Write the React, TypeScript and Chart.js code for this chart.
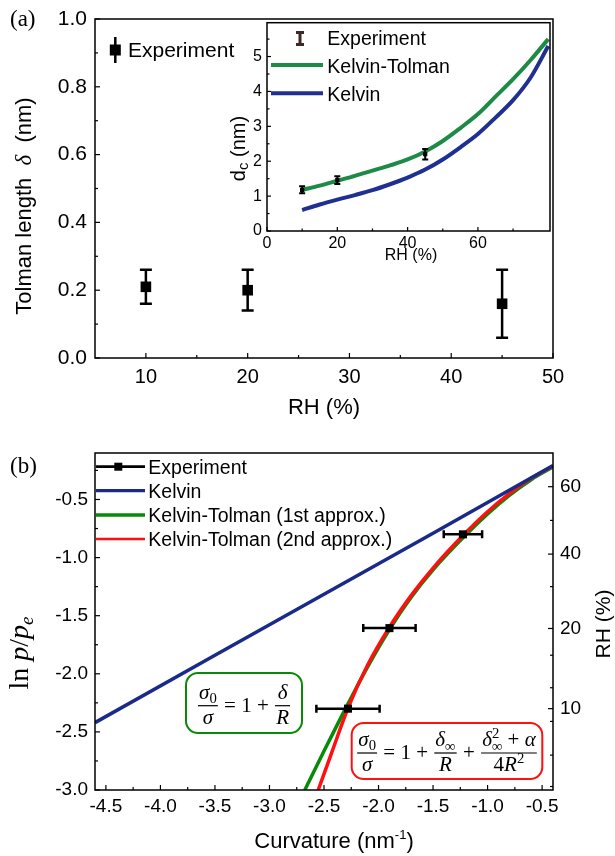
import React, { useEffect, useRef } from "react";
import { Chart, registerables } from "chart.js";
Chart.register(...registerables);

const SANS = '"Liberation Sans", Arial, Helvetica, sans-serif';
const SERIF = '"Liberation Serif", "Times New Roman", Times, serif';
Chart.defaults.font.family = SANS;
Chart.defaults.color = "#000";

const BLUE_IN = "#1f2f92";
const GREEN_IN = "#1d8a45";
const BLUE_B = "#1a2a8a";
const GREEN_B = "#078a07";
const RED_B = "#ff1010";

// ---------- Panel (a): Tolman length vs RH ----------
const aLabel = "Experiment";
const aRH = [10, 20, 45];
const aTolman = [0.21, 0.2, 0.16];
const aTolmanErr = [0.05, 0.06, 0.1];
const aXTicks = [10, 20, 30, 40, 50];
const aXMinor = [15, 25, 35, 45];
const aYTicks = [0, 0.2, 0.4, 0.6, 0.8, 1.0];
const aYMinor = [0.1, 0.3, 0.5, 0.7, 0.9];

// ---------- Inset: d_c vs RH ----------
const inLabels = ["Experiment", "Kelvin-Tolman", "Kelvin"];
const inExpRH = [10, 20, 45];
const inExpD = [1.18, 1.46, 2.2];
const inExpErr = [0.1, 0.11, 0.15];
const inCurveRH = [10, 15, 20, 25, 30, 35, 40, 45, 50, 55, 60, 65, 70, 75, 80];
const inKelvinTolman = [1.18, 1.3, 1.44, 1.58, 1.73, 1.88, 2.05, 2.28, 2.58, 2.95, 3.35, 3.85, 4.35, 4.9, 5.5];
const inKelvin = [0.6, 0.76, 0.9, 1.03, 1.17, 1.34, 1.53, 1.76, 2.05, 2.4, 2.78, 3.25, 3.75, 4.4, 5.3];
const inXTicks = [0, 20, 40, 60];
const inXMinor = [10, 30, 50, 70];
const inYTicks = [0, 1, 2, 3, 4, 5];
const inYMinor = [0.5, 1.5, 2.5, 3.5, 4.5, 5.5];

// ---------- Panel (b): ln p/pe vs curvature ----------
const bLabels = ["Experiment", "Kelvin", "Kelvin-Tolman (1st approx.)", "Kelvin-Tolman (2nd approx.)"];
const bExpCurv = [-2.28, -1.9, -1.226];
const bExpLn = [-2.3, -1.607, -0.8];
const bExpCurvErr = [0.29, 0.24, 0.176];
const bKelvinCurv = [-4.6, -3.5, -2.5, -1.5, -0.4];
const bKelvinLn = [-2.42, -1.84, -1.315, -0.79, -0.207];
const bKT1Curv = [-2.676, -2.5, -2.292, -2.1, -1.904, -1.7, -1.5, -1.226, -1.0, -0.8, -0.6, -0.4];
const bKT1Ln = [-3.0, -2.665, -2.28, -1.94, -1.625, -1.34, -1.105, -0.83, -0.625, -0.465, -0.33, -0.22];
const bKT2Curv = [-2.553, -2.43, -2.278, -2.1, -1.904, -1.7, -1.5, -1.226, -1.0, -0.8, -0.6, -0.4];
const bKT2Ln = [-3.0, -2.68, -2.29, -1.925, -1.605, -1.325, -1.09, -0.81, -0.605, -0.45, -0.318, -0.212];
const bXTicks = [-4.5, -4, -3.5, -3, -2.5, -2, -1.5, -1, -0.5];
const bXMinor = [-4.25, -3.75, -3.25, -2.75, -2.25, -1.75, -1.25, -0.75];
const bYTicks = [-3, -2.5, -2, -1.5, -1, -0.5];
const bYMinor = [-2.75, -2.25, -1.75, -1.25, -0.75, -0.25];
const rhLabels = ["60", "40", "20", "10"];
const rhLnPos = [-0.39, -0.97, -1.61, -2.3];
const rhMinorLnPos = [-0.68, -1.25, -1.84, -2.12, -2.41, -2.7, -2.97];

// ---------- helpers ----------
type Seg = { t: string; font: string; dy?: number; noAdvance?: boolean };
const fSans = (s: number) => `${s}px ${SANS}`;
const fSerif = (s: number) => `${s}px ${SERIF}`;
const fSerifI = (s: number) => `italic ${s}px ${SERIF}`;

function segsWidth(ctx: CanvasRenderingContext2D, segs: Seg[]) {
  let w = 0;
  for (const s of segs) {
    ctx.font = s.font;
    if (!s.noAdvance) w += ctx.measureText(s.t).width;
  }
  return w;
}
function drawSegs(ctx: CanvasRenderingContext2D, segs: Seg[], x: number, y: number, align: string) {
  const w = segsWidth(ctx, segs);
  let cx = align === "center" ? x - w / 2 : align === "right" ? x - w : x;
  ctx.textAlign = "left";
  ctx.textBaseline = "alphabetic";
  for (const s of segs) {
    ctx.font = s.font;
    ctx.fillText(s.t, cx, y + (s.dy || 0));
    if (!s.noAdvance) cx += ctx.measureText(s.t).width;
  }
  return w;
}
function drawRot(ctx: CanvasRenderingContext2D, segs: Seg[], bx: number, cy: number) {
  ctx.save();
  ctx.translate(bx, cy);
  ctx.rotate(-Math.PI / 2);
  drawSegs(ctx, segs, 0, 0, "center");
  ctx.restore();
}

type MathItem = { kind: "txt"; segs: Seg[] } | { kind: "frac"; num: Seg[]; den: Seg[] };
function drawFormula(ctx: CanvasRenderingContext2D, items: MathItem[], cx: number, axisY: number, size: number) {
  const widths = items.map((it) =>
    it.kind === "txt" ? segsWidth(ctx, it.segs) : Math.max(segsWidth(ctx, it.num), segsWidth(ctx, it.den)) + size * 0.2
  );
  const total = widths.reduce((a, b) => a + b, 0);
  let x = cx - total / 2;
  ctx.fillStyle = "#000";
  ctx.strokeStyle = "#000";
  items.forEach((it, i) => {
    const w = widths[i];
    if (it.kind === "txt") {
      drawSegs(ctx, it.segs, x, axisY + size * 0.3, "left");
    } else {
      drawSegs(ctx, it.num, x + w / 2, axisY - size * 0.32, "center");
      drawSegs(ctx, it.den, x + w / 2, axisY + size * 0.85, "center");
      ctx.lineWidth = 1.2;
      ctx.beginPath();
      ctx.moveTo(x + 1, axisY);
      ctx.lineTo(x + w - 1, axisY);
      ctx.stroke();
    }
    x += w;
  });
}

function roundBox(ctx: CanvasRenderingContext2D, x: number, y: number, w: number, h: number, r: number, color: string) {
  ctx.save();
  ctx.beginPath();
  ctx.moveTo(x + r, y);
  ctx.arcTo(x + w, y, x + w, y + h, r);
  ctx.arcTo(x + w, y + h, x, y + h, r);
  ctx.arcTo(x, y + h, x, y, r);
  ctx.arcTo(x, y, x + w, y, r);
  ctx.closePath();
  ctx.fillStyle = "#fff";
  ctx.fill();
  ctx.lineWidth = 2;
  ctx.strokeStyle = color;
  ctx.stroke();
  ctx.restore();
}

function drawFrameTicks(chart: any, axes: { id: string; side: string; minor: number[] }[], maj: number, min: number) {
  const ctx = chart.ctx as CanvasRenderingContext2D;
  const a = chart.chartArea;
  ctx.save();
  ctx.strokeStyle = "#000";
  ctx.lineWidth = 1.5;
  ctx.strokeRect(a.left, a.top, a.right - a.left, a.bottom - a.top);
  ctx.lineWidth = 1.2;
  for (const ax of axes) {
    const s = chart.scales[ax.id];
    const tick = (v: number, len: number) => {
      const p = s.getPixelForValue(v);
      ctx.beginPath();
      if (ax.side === "bottom") {
        ctx.moveTo(p, a.bottom);
        ctx.lineTo(p, a.bottom - len);
      } else if (ax.side === "left") {
        ctx.moveTo(a.left, p);
        ctx.lineTo(a.left + len, p);
      } else {
        ctx.moveTo(a.right, p);
        ctx.lineTo(a.right - len, p);
      }
      ctx.stroke();
    };
    s.ticks.forEach((t: any) => tick(t.value, maj));
    ax.minor.forEach((v) => tick(v, min));
  }
  ctx.restore();
}

function errY(chart: any, xs: number[], ys: number[], errs: number[], cap: number, lw: number) {
  const ctx = chart.ctx as CanvasRenderingContext2D;
  const sx = chart.scales.x, sy = chart.scales.y;
  ctx.save();
  ctx.strokeStyle = "#000";
  ctx.lineWidth = lw;
  xs.forEach((xv, i) => {
    const px = sx.getPixelForValue(xv);
    const top = sy.getPixelForValue(ys[i] + errs[i]);
    const bot = sy.getPixelForValue(ys[i] - errs[i]);
    ctx.beginPath();
    ctx.moveTo(px, top); ctx.lineTo(px, bot);
    ctx.moveTo(px - cap / 2, top); ctx.lineTo(px + cap / 2, top);
    ctx.moveTo(px - cap / 2, bot); ctx.lineTo(px + cap / 2, bot);
    ctx.stroke();
  });
  ctx.restore();
}
function errX(chart: any, xs: number[], ys: number[], errs: number[], cap: number, lw: number) {
  const ctx = chart.ctx as CanvasRenderingContext2D;
  const sx = chart.scales.x, sy = chart.scales.y;
  ctx.save();
  ctx.strokeStyle = "#000";
  ctx.lineWidth = lw;
  xs.forEach((xv, i) => {
    const py = sy.getPixelForValue(ys[i]);
    const l = sx.getPixelForValue(xv - errs[i]);
    const r = sx.getPixelForValue(xv + errs[i]);
    ctx.beginPath();
    ctx.moveTo(l, py); ctx.lineTo(r, py);
    ctx.moveTo(l, py - cap / 2); ctx.lineTo(l, py + cap / 2);
    ctx.moveTo(r, py - cap / 2); ctx.lineTo(r, py + cap / 2);
    ctx.stroke();
  });
  ctx.restore();
}

const fix = (size: number) => (scale: any) => {
  if (scale.isHorizontal()) scale.height = size;
  else scale.width = size;
  scale.paddingTop = 0;
  scale.paddingBottom = 0;
  scale.paddingLeft = 0;
  scale.paddingRight = 0;
};
const setTicks = (vals: number[]) => (scale: any) => {
  scale.ticks = vals.map((v) => ({ value: v }));
};

function axis(o: {
  min: number; max: number; ticks: number[]; size: number; fontSize: number; pad: number;
  position?: string; fmt?: (v: number, i: number) => string;
}) {
  const ticks: any = {
    padding: o.pad, autoSkip: false, maxRotation: 0, minRotation: 0, color: "#000",
    font: { family: SANS, size: o.fontSize },
  };
  if (o.fmt) ticks.callback = (v: any, i: number) => o.fmt!(Number(v), i);
  const s: any = {
    type: "linear", min: o.min, max: o.max, bounds: "data",
    afterBuildTicks: setTicks(o.ticks), afterFit: fix(o.size),
    grid: { display: false, drawTicks: false }, border: { display: false }, ticks,
  };
  if (o.position) s.position = o.position;
  return s;
}

const pts = (xs: number[], ys: number[]) => xs.map((x, i) => ({ x, y: ys[i] }));

const common = {
  responsive: false,
  animation: false as const,
  devicePixelRatio: 1,
  events: [] as any[],
  plugins: { legend: { display: false }, tooltip: { enabled: false } },
};

// ---------- configs ----------
function cfgA(): any {
  return {
    type: "scatter",
    data: {
      datasets: [
        {
          label: aLabel, data: pts(aRH, aTolman), pointStyle: "rect", pointRadius: 7.5,
          pointBorderWidth: 0, backgroundColor: "#000", borderColor: "#000", showLine: false,
        },
      ],
    },
    options: {
      ...common,
      layout: { padding: { top: 19, right: 62, left: 0, bottom: 0 } },
      scales: {
        x: axis({ min: 5, max: 50, ticks: aXTicks, size: 67, fontSize: 20, pad: 7 }),
        y: axis({ min: 0, max: 1, ticks: aYTicks, size: 95, fontSize: 21, pad: 8, fmt: (v) => v.toFixed(1) }),
      },
    },
    plugins: [
      {
        id: "decoA",
        beforeDatasetsDraw(chart: any) {
          errY(chart, aRH, aTolman, aTolmanErr, 12, 2.5);
        },
        afterDraw(chart: any) {
          const ctx = chart.ctx as CanvasRenderingContext2D;
          drawFrameTicks(chart, [{ id: "x", side: "bottom", minor: aXMinor }, { id: "y", side: "left", minor: aYMinor }], 5, 3);
          ctx.save();
          ctx.fillStyle = "#000";
          drawSegs(ctx, [{ t: "(a)", font: fSerif(23) }], 10, 26, "left");
          drawSegs(ctx, [{ t: "RH (%)", font: fSans(22) }], 324, 414, "center");
          drawRot(ctx, [
            { t: "Tolman length  ", font: fSans(22) },
            { t: "δ", font: fSerifI(23) },
            { t: "  (nm)", font: fSans(22) },
          ], 30.5, 206);
          // legend
          ctx.strokeStyle = "#000";
          ctx.lineWidth = 2.5;
          ctx.beginPath();
          ctx.moveTo(115.3, 37); ctx.lineTo(115.3, 63);
          ctx.stroke();
          ctx.fillRect(115.3 - 5.5, 50 - 5.5, 11, 11);
          drawSegs(ctx, [{ t: chart.data.datasets[0].label, font: fSans(21) }], 128, 57, "left");
          ctx.restore();
        },
      },
    ],
  };
}

function cfgInset(): any {
  return {
    type: "scatter",
    data: {
      datasets: [
        {
          label: inLabels[0], data: pts(inExpRH, inExpD), pointStyle: "rect", pointRadius: 3,
          pointBorderWidth: 0, backgroundColor: "#000", borderColor: "#000", showLine: false,
        },
        {
          label: inLabels[1], data: pts(inCurveRH, inKelvinTolman), showLine: true, pointRadius: 0,
          borderColor: GREEN_IN, borderWidth: 4, cubicInterpolationMode: "monotone",
        },
        {
          label: inLabels[2], data: pts(inCurveRH, inKelvin), showLine: true, pointRadius: 0,
          borderColor: BLUE_IN, borderWidth: 4, cubicInterpolationMode: "monotone",
        },
      ],
    },
    options: {
      ...common,
      layout: { padding: { top: 10.7, right: 5, left: 0, bottom: 0 } },
      scales: {
        x: axis({ min: 0, max: 80.5, ticks: inXTicks, size: 39, fontSize: 16, pad: 3 }),
        y: axis({ min: 0, max: 5.97, ticks: inYTicks, size: 52, fontSize: 16, pad: 5 }),
      },
    },
    plugins: [
      {
        id: "decoInset",
        afterDatasetsDraw(chart: any) {
          errY(chart, inExpRH, inExpD, inExpErr, 6, 2);
        },
        afterDraw(chart: any) {
          const ctx = chart.ctx as CanvasRenderingContext2D;
          drawFrameTicks(chart, [{ id: "x", side: "bottom", minor: inXMinor }, { id: "y", side: "left", minor: inYMinor }], 4, 2.5);
          ctx.save();
          ctx.fillStyle = "#000";
          drawRot(ctx, [
            { t: "d", font: fSans(20) },
            { t: "c", font: fSans(15), dy: 3 },
            { t: " (nm)", font: fSans(20) },
          ], 29.5, 136.5);
          drawSegs(ctx, [{ t: "RH (%)", font: fSans(16) }], 196, 248.2, "center");
          // legend
          const ds = chart.data.datasets;
          ctx.strokeStyle = "#3b2a25";
          ctx.lineWidth = 3;
          ctx.beginPath();
          ctx.moveTo(85, 20.5); ctx.lineTo(85, 32.5);
          ctx.moveTo(81, 20.5); ctx.lineTo(89, 20.5);
          ctx.moveTo(81, 32.5); ctx.lineTo(89, 32.5);
          ctx.stroke();
          ctx.lineWidth = 4;
          ctx.strokeStyle = GREEN_IN;
          ctx.beginPath(); ctx.moveTo(56, 53); ctx.lineTo(108, 53); ctx.stroke();
          ctx.strokeStyle = BLUE_IN;
          ctx.beginPath(); ctx.moveTo(56, 81.3); ctx.lineTo(108, 81.3); ctx.stroke();
          drawSegs(ctx, [{ t: ds[0].label, font: fSans(19.5) }], 112.3, 33, "left");
          drawSegs(ctx, [{ t: ds[1].label, font: fSans(19.5) }], 112.3, 60.7, "left");
          drawSegs(ctx, [{ t: ds[2].label, font: fSans(19.5) }], 112.3, 88.7, "left");
          ctx.restore();
        },
      },
    ],
  };
}

function cfgB(): any {
  const S = 21;
  const greenFormula: MathItem[] = [
    { kind: "frac", num: [{ t: "σ", font: fSerifI(S) }, { t: "0", font: fSerif(S * 0.7), dy: S * 0.2 }], den: [{ t: "σ", font: fSerifI(S) }] },
    { kind: "txt", segs: [{ t: " = 1 + ", font: fSerif(S) }] },
    { kind: "frac", num: [{ t: "δ", font: fSerifI(S) }], den: [{ t: "R", font: fSerifI(S) }] },
  ];
  const redFormula: MathItem[] = [
    { kind: "frac", num: [{ t: "σ", font: fSerifI(S) }, { t: "0", font: fSerif(S * 0.7), dy: S * 0.2 }], den: [{ t: "σ", font: fSerifI(S) }] },
    { kind: "txt", segs: [{ t: " = 1 + ", font: fSerif(S) }] },
    { kind: "frac", num: [{ t: "δ", font: fSerifI(S) }, { t: "∞", font: fSerif(S * 0.7), dy: S * 0.22 }], den: [{ t: "R", font: fSerifI(S) }] },
    { kind: "txt", segs: [{ t: " + ", font: fSerif(S) }] },
    {
      kind: "frac",
      num: [
        { t: "δ", font: fSerifI(S) },
        { t: "2", font: fSerif(S * 0.7), dy: -S * 0.38, noAdvance: true },
        { t: "∞", font: fSerif(S * 0.7), dy: S * 0.22 },
        { t: " + ", font: fSerif(S) },
        { t: "α", font: fSerifI(S) },
      ],
      den: [
        { t: "4", font: fSerif(S) },
        { t: "R", font: fSerifI(S) },
        { t: "2", font: fSerif(S * 0.7), dy: -S * 0.38 },
      ],
    },
  ];
  return {
    type: "scatter",
    data: {
      datasets: [
        {
          label: bLabels[0], data: pts(bExpCurv, bExpLn), pointStyle: "rect", pointRadius: 5.7,
          pointBorderWidth: 0, backgroundColor: "#000", borderColor: "#000", showLine: false, order: 0,
        },
        {
          label: bLabels[1], data: pts(bKelvinCurv, bKelvinLn), showLine: true, pointRadius: 0,
          borderColor: BLUE_B, borderWidth: 3.5, order: 1,
        },
        {
          label: bLabels[2], data: pts(bKT1Curv, bKT1Ln), showLine: true, pointRadius: 0,
          borderColor: GREEN_B, borderWidth: 3.5, cubicInterpolationMode: "monotone", order: 3,
        },
        {
          label: bLabels[3], data: pts(bKT2Curv, bKT2Ln), showLine: true, pointRadius: 0,
          borderColor: RED_B, borderWidth: 3.5, cubicInterpolationMode: "monotone", order: 2,
        },
      ],
    },
    options: {
      ...common,
      layout: { padding: { top: 25, right: 0, left: 0, bottom: 0 } },
      scales: {
        x: axis({ min: -4.6, max: -0.4, ticks: bXTicks, size: 66, fontSize: 19, pad: 5, fmt: (v) => v.toFixed(1) }),
        y: axis({ min: -3, max: -0.1, ticks: bYTicks, size: 95, fontSize: 19, pad: 7, fmt: (v) => v.toFixed(1) }),
        yR: axis({
          min: -3, max: -0.1, ticks: rhLnPos, size: 62, fontSize: 19, pad: 7, position: "right",
          fmt: (_v, i) => rhLabels[i],
        }),
      },
    },
    plugins: [
      {
        id: "decoB",
        afterDatasetsDraw(chart: any) {
          errX(chart, bExpCurv, bExpLn, bExpCurvErr, 8, 2.5);
        },
        afterDraw(chart: any) {
          const ctx = chart.ctx as CanvasRenderingContext2D;
          drawFrameTicks(chart, [
            { id: "x", side: "bottom", minor: bXMinor },
            { id: "y", side: "left", minor: bYMinor },
            { id: "yR", side: "right", minor: rhMinorLnPos },
          ], 5, 3);
          ctx.save();
          ctx.fillStyle = "#000";
          drawSegs(ctx, [{ t: "(b)", font: fSerif(23) }], 10, 44.7, "left");
          drawSegs(ctx, [
            { t: "Curvature (nm", font: fSans(22) },
            { t: "-1", font: fSans(13), dy: -9 },
            { t: ")", font: fSans(22) },
          ], 334, 419.5, "center");
          drawRot(ctx, [
            { t: "ln ", font: fSerif(28) },
            { t: "p", font: fSerifI(28) },
            { t: "/", font: fSerif(28) },
            { t: "p", font: fSerifI(28) },
            { t: "e", font: fSerifI(19), dy: 5 },
          ], 28, 225);
          drawRot(ctx, [{ t: "RH (%)", font: fSans(21) }], 610, 196);
          // legend
          const ds = chart.data.datasets;
          const rows = [
            { y: 38.7, color: "#000", lw: 2.7, marker: true },
            { y: 62.7, color: BLUE_B, lw: 3.3, marker: false },
            { y: 87, color: GREEN_B, lw: 3.3, marker: false },
            { y: 111, color: RED_B, lw: 2.7, marker: false },
          ];
          rows.forEach((r, i) => {
            ctx.strokeStyle = r.color;
            ctx.lineWidth = r.lw;
            ctx.beginPath(); ctx.moveTo(96, r.y); ctx.lineTo(145, r.y); ctx.stroke();
            if (r.marker) { ctx.fillStyle = "#000"; ctx.fillRect(118.3 - 4, r.y - 4, 8, 8); }
            ctx.fillStyle = "#000";
            drawSegs(ctx, [{ t: ds[i].label, font: fSans(19.5) }], 148.3, r.y + 7, "left");
          });
          // formula boxes
          roundBox(ctx, 186, 245, 116, 60, 12, GREEN_B);
          drawFormula(ctx, greenFormula, 244, 277.7, S);
          roundBox(ctx, 351.7, 295, 190.6, 56, 12, RED_B);
          drawFormula(ctx, redFormula, 447, 325, S);
          ctx.restore();
        },
      },
    ],
  };
}

export default function App() {
  const aRef = useRef<HTMLCanvasElement>(null);
  const iRef = useRef<HTMLCanvasElement>(null);
  const bRef = useRef<HTMLCanvasElement>(null);
  useEffect(() => {
    const charts = [
      new Chart(aRef.current as HTMLCanvasElement, cfgA()),
      new Chart(iRef.current as HTMLCanvasElement, cfgInset()),
      new Chart(bRef.current as HTMLCanvasElement, cfgB()),
    ];
    return () => charts.forEach((c) => c.destroy());
  }, []);
  return (
    <div style={{ position: "fixed", left: 0, top: 0, width: 615, height: 856, background: "#fff", overflow: "hidden" }}>
      <canvas ref={aRef} width={615} height={425} style={{ position: "absolute", left: 0, top: 0, width: 615, height: 425 }} />
      <canvas ref={iRef} width={340} height={258} style={{ position: "absolute", left: 215, top: 12, width: 340, height: 258 }} />
      <canvas ref={bRef} width={615} height={428} style={{ position: "absolute", left: 0, top: 428, width: 615, height: 428 }} />
    </div>
  );
}
